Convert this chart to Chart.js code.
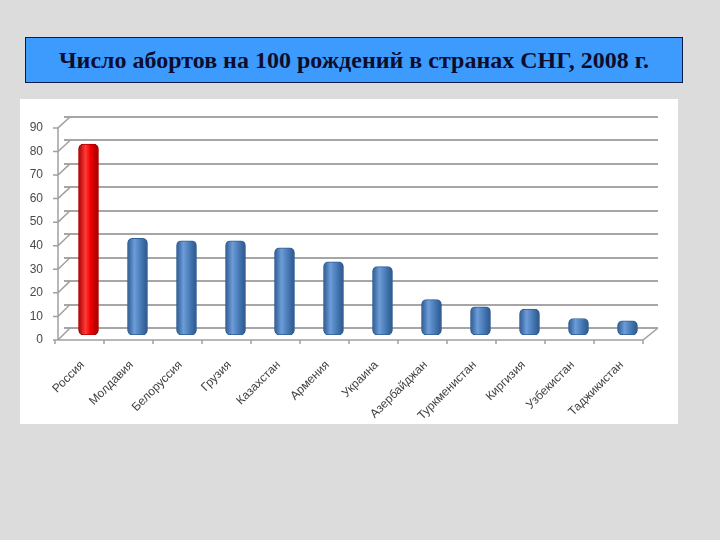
<!DOCTYPE html>
<html>
<head>
<meta charset="utf-8">
<script src="https://cdn.jsdelivr.net/npm/chart.js@4"></script>
<style>
  body { margin: 0; background: #dcdcdc; width: 720px; height: 540px; overflow: hidden; }
  #title {
    position: absolute; left: 25px; top: 37px; width: 656px; height: 44px;
    background: #3d9bfd; border: 1.5px solid #0a1a4a;
    font: bold 24px "Liberation Serif", "DejaVu Serif", serif; color: #0d0d2e;
    text-align: center; line-height: 44px;
  }
  #panel { position: absolute; left: 20px; top: 99px; width: 658px; height: 325px; background: #fff; }
</style>
</head>
<body>
<div id="title">Число абортов на 100 рождений в странах СНГ, 2008 г.</div>
<div id="panel"><canvas id="chart"></canvas></div>
<script>
const countries = ["Россия", "Молдавия", "Белоруссия", "Грузия", "Казахстан", "Армения",
  "Украина", "Азербайджан", "Туркменистан", "Киргизия", "Узбекистан", "Таджикистан"];
const abortions = [81, 41, 40, 40, 37, 31, 29, 15, 12, 11, 7, 6];
const yTicks = [0, 10, 20, 30, 40, 50, 60, 70, 80, 90];

// cylinder-like shading across each bar
function barFill(context) {
  const first = context.dataIndex === 0;
  const chart = context.chart;
  const xScale = chart.scales.x;
  const cx = xScale ? xScale.getPixelForValue(context.dataIndex) : NaN;
  if (!isFinite(cx)) return first ? "#f00000" : "#4f81bd";
  const g = chart.ctx.createLinearGradient(cx - 10, 0, cx + 10, 0);
  if (first) {
    g.addColorStop(0, "#a80000");
    g.addColorStop(0.35, "#ff3a3a");
    g.addColorStop(0.6, "#f00000");
    g.addColorStop(1, "#9a0000");
  } else {
    g.addColorStop(0, "#2d5b92");
    g.addColorStop(0.35, "#6d9cd8");
    g.addColorStop(0.6, "#4f81bd");
    g.addColorStop(1, "#2a568a");
  }
  return g;
}

// front axis lines and the slanted links to the back wall, like the 3D original
const floor3d = {
  id: "floor3d",
  beforeDatasetsDraw(chart) {
    const { ctx, chartArea: a } = chart;
    const y = chart.scales.y, yg = chart.scales.yg, x = chart.scales.x;
    const fx = a.left - 6;
    const fy = (v) => y.getPixelForValue(v) + 5;
    ctx.save();
    ctx.strokeStyle = "#a0a0a0";
    ctx.lineWidth = 1.5;
    ctx.beginPath();
    ctx.moveTo(fx, fy(0));
    ctx.lineTo(fx, fy(90));
    yTicks.forEach((v) => {
      ctx.moveTo(fx - 5, fy(v));
      ctx.lineTo(fx, fy(v));
      ctx.lineTo(a.left + 6, yg.getPixelForValue(v));
    });
    const endX = x.getPixelForValue(countries.length - 0.5) - 9;
    ctx.moveTo(fx, fy(0));
    ctx.lineTo(endX, fy(0));
    ctx.lineTo(a.right + 6, yg.getPixelForValue(0));
    for (let i = 0; i <= countries.length; i++) {
      const tx = x.getPixelForValue(i - 0.5) - 9;
      ctx.moveTo(tx, fy(0));
      ctx.lineTo(tx, fy(0) + 4);
    }
    ctx.stroke();
    // back wall lines run a little past the plot edge
    ctx.strokeStyle = "#a6a6a6";
    ctx.lineWidth = 2;
    ctx.beginPath();
    yTicks.forEach((v) => {
      const gy = Math.round(yg.getPixelForValue(v));
      ctx.moveTo(a.right, gy);
      ctx.lineTo(a.right + 6, gy);
    });
    ctx.stroke();
    ctx.restore();
  },
};

const tickFont = { family: "'Liberation Sans', Arial, sans-serif", size: 12 };

new Chart(document.getElementById("chart").getContext("2d"), {
  type: "bar",
  data: {
    labels: countries,
    datasets: [{
      data: abortions,
      backgroundColor: barFill,
      borderColor: (c) => (c.dataIndex === 0 ? "#b00000" : "#2f5e95"),
      borderWidth: 1,
      borderRadius: 5,
      borderSkipped: false,
      barThickness: 20,
    }],
  },
  options: {
    responsive: true,
    maintainAspectRatio: false,
    animation: false,
    layout: { padding: { left: 0, right: 26, top: 18, bottom: 0 } },
    plugins: { legend: { display: false }, tooltip: { enabled: false } },
    scales: {
      x: {
        afterFit: (axis) => { axis.height = 89; },
        grid: { display: false, drawTicks: false },
        border: { display: false },
        ticks: {
          minRotation: 45, maxRotation: 45, autoSkip: false,
          labelOffset: -6, padding: 23,
          font: tickFont, color: "#404040",
        },
      },
      y: {
        position: "left",
        weight: 1,
        min: 0, max: 92.5,
        afterBuildTicks: (axis) => { axis.ticks = yTicks.map((v) => ({ value: v })); },
        afterFit: (axis) => { axis.width = 26; },
        grid: { display: false, drawTicks: false },
        border: { display: false },
        ticks: { labelOffset: 5, padding: 3, font: tickFont, color: "#4a4a4a" },
      },
      yg: {
        position: "left",
        weight: 0,
        min: -2.986, max: 90,
        afterBuildTicks: (axis) => { axis.ticks = yTicks.map((v) => ({ value: v })); },
        afterFit: (axis) => { axis.width = 18; },
        grid: { color: "#a6a6a6", lineWidth: 2, drawTicks: false },
        border: { display: false },
        ticks: { display: false },
      },
    },
  },
  plugins: [floor3d],
});
</script>
</body>
</html>
